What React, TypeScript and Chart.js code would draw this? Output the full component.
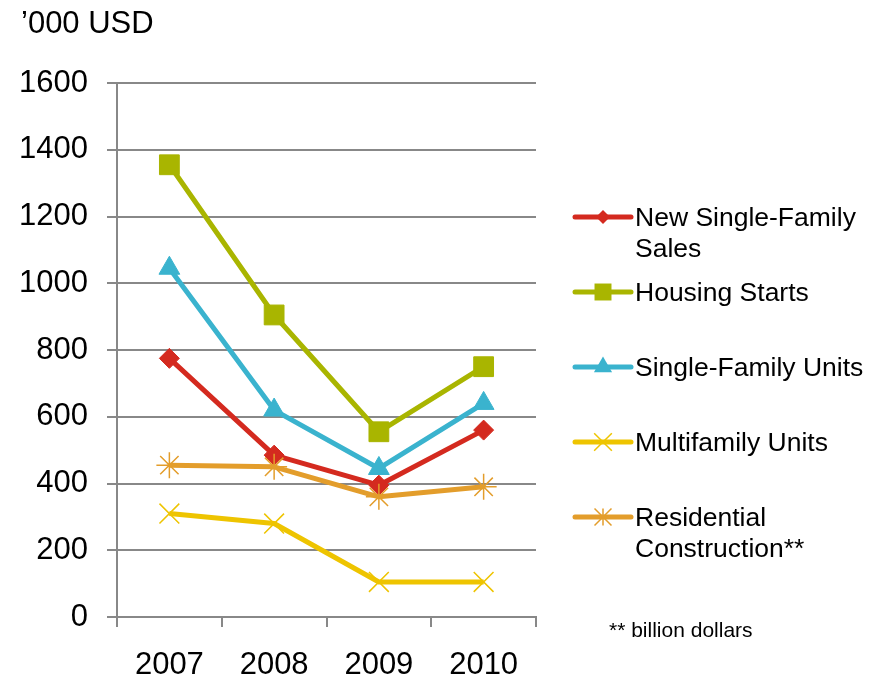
import React, { useEffect, useRef } from 'react';
import { Chart, registerables } from 'chart.js';
Chart.register(...registerables);

const categories = ['2007', '2008', '2009', '2010'];
const newSingleFamilySales = [775, 485, 395, 560];
const housingStarts = [1355, 905, 555, 750];
const singleFamilyUnits = [1045, 620, 445, 640];
const multifamilyUnits = [310, 280, 105, 105];
const residentialConstruction = [455, 450, 360, 390];
const yMin = 0;
const yMax = 1600;
const yStep = 200;
const seriesNames = [
  ['New Single-Family', 'Sales'],
  ['Housing Starts'],
  ['Single-Family Units'],
  ['Multifamily Units'],
  ['Residential', 'Construction**'],
];
const unitTitle = '\u2019000 USD';
const footnote = '** billion dollars';

const FONT = '"Liberation Sans", Arial, sans-serif';
const colors = ['#D42A1F', '#A9B500', '#3AB3CE', '#EEC400', '#E39D2B'];
const pointStyles = ['rectRot', 'rect', 'triangle', 'crossRot', 'star'];
const pointRadii = [10, 14, 12, 14, 13];
const legendMarkerRadii = [7, 12, 10.5, 12.5, 12];

function drawMarker(ctx: CanvasRenderingContext2D, style: string, x: number, y: number, r: number, color: string) {
  ctx.save();
  ctx.fillStyle = color;
  ctx.strokeStyle = color;
  ctx.lineWidth = 1.5;
  ctx.beginPath();
  if (style === 'rectRot') {
    ctx.moveTo(x - r, y); ctx.lineTo(x, y - r); ctx.lineTo(x + r, y); ctx.lineTo(x, y + r); ctx.closePath(); ctx.fill();
  } else if (style === 'rect') {
    const s = r * Math.SQRT1_2;
    ctx.rect(x - s, y - s, 2 * s, 2 * s); ctx.fill();
  } else if (style === 'triangle') {
    let a = 0;
    ctx.moveTo(x + Math.sin(a) * r, y - Math.cos(a) * r);
    a += (2 * Math.PI) / 3;
    ctx.lineTo(x + Math.sin(a) * r, y - Math.cos(a) * r);
    a += (2 * Math.PI) / 3;
    ctx.lineTo(x + Math.sin(a) * r, y - Math.cos(a) * r);
    ctx.closePath(); ctx.fill();
  } else if (style === 'crossRot' || style === 'star') {
    const d = r * Math.SQRT1_2;
    ctx.moveTo(x - d, y - d); ctx.lineTo(x + d, y + d);
    ctx.moveTo(x - d, y + d); ctx.lineTo(x + d, y - d);
    if (style === 'star') { ctx.moveTo(x, y - d); ctx.lineTo(x, y + d); }
    ctx.stroke();
  }
  ctx.restore();
}

const overlayPlugin = {
  id: 'overlay',
  afterDraw(chart: any) {
    const ctx: CanvasRenderingContext2D = chart.ctx;
    ctx.save();
    ctx.fillStyle = '#000';
    ctx.textAlign = 'left';
    ctx.textBaseline = 'alphabetic';
    ctx.font = `31px ${FONT}`;
    ctx.fillText(unitTitle, 21, 33);

    const x0 = 575, x1 = 631, tx = 635;
    seriesNames.forEach((lines, i) => {
      const cy = 217 + i * 75;
      ctx.save();
      ctx.strokeStyle = colors[i];
      ctx.lineWidth = 5;
      ctx.lineCap = 'round';
      ctx.beginPath(); ctx.moveTo(x0, cy); ctx.lineTo(x1, cy); ctx.stroke();
      ctx.restore();
      drawMarker(ctx, pointStyles[i], (x0 + x1) / 2, cy, legendMarkerRadii[i], colors[i]);
      ctx.fillStyle = '#000';
      ctx.font = `26.5px ${FONT}`;
      lines.forEach((t, j) => ctx.fillText(t, tx, cy + 9 + j * 31));
    });
    ctx.font = `21px ${FONT}`;
    ctx.fillText(footnote, 609, 637);
    ctx.restore();
  },
};

export default function App() {
  const ref = useRef<HTMLCanvasElement>(null);
  useEffect(() => {
    document.body.style.margin = '0';
    const series = [newSingleFamilySales, housingStarts, singleFamilyUnits, multifamilyUnits, residentialConstruction];
    const chart = new Chart(ref.current!, {
      type: 'line',
      data: {
        labels: categories,
        datasets: series.map((d, i) => ({
          label: seriesNames[i].join(' '),
          data: d,
          order: -i,
          borderColor: colors[i],
          backgroundColor: colors[i],
          borderWidth: 5,
          borderJoinStyle: 'round' as const,
          tension: 0,
          pointStyle: pointStyles[i] as any,
          pointRadius: pointRadii[i],
          pointBorderWidth: i >= 3 ? 1.5 : 1,
          pointBackgroundColor: colors[i],
          pointBorderColor: colors[i],
        })),
      },
      options: {
        animation: false,
        responsive: false,
        maintainAspectRatio: false,
        layout: { padding: { top: 83, right: 345, left: 0, bottom: 0 } },
        plugins: { legend: { display: false }, title: { display: false }, tooltip: { enabled: false } },
        scales: {
          x: {
            offset: true,
            grid: { offset: true, drawOnChartArea: false, drawTicks: true, tickLength: 10, color: '#888888', lineWidth: 2 },
            border: { color: '#888888', width: 2 },
            ticks: { color: '#000', font: { family: FONT, size: 31 }, padding: 20, maxRotation: 0 },
            afterFit: (s: any) => { s.height = 64; },
          },
          y: {
            min: yMin,
            max: yMax,
            grid: { color: '#888888', lineWidth: 2, tickLength: 10 },
            border: { color: '#888888', width: 2 },
            ticks: {
              stepSize: yStep,
              color: '#000',
              font: { family: FONT, size: 31 },
              padding: 19,
              callback: (v: any) => String(v),
            },
            afterFit: (s: any) => { s.width = 117; },
          },
        },
      },
      plugins: [overlayPlugin],
    });
    return () => chart.destroy();
  }, []);
  return <canvas ref={ref} width={881} height={681} style={{ display: 'block' }} />;
}
